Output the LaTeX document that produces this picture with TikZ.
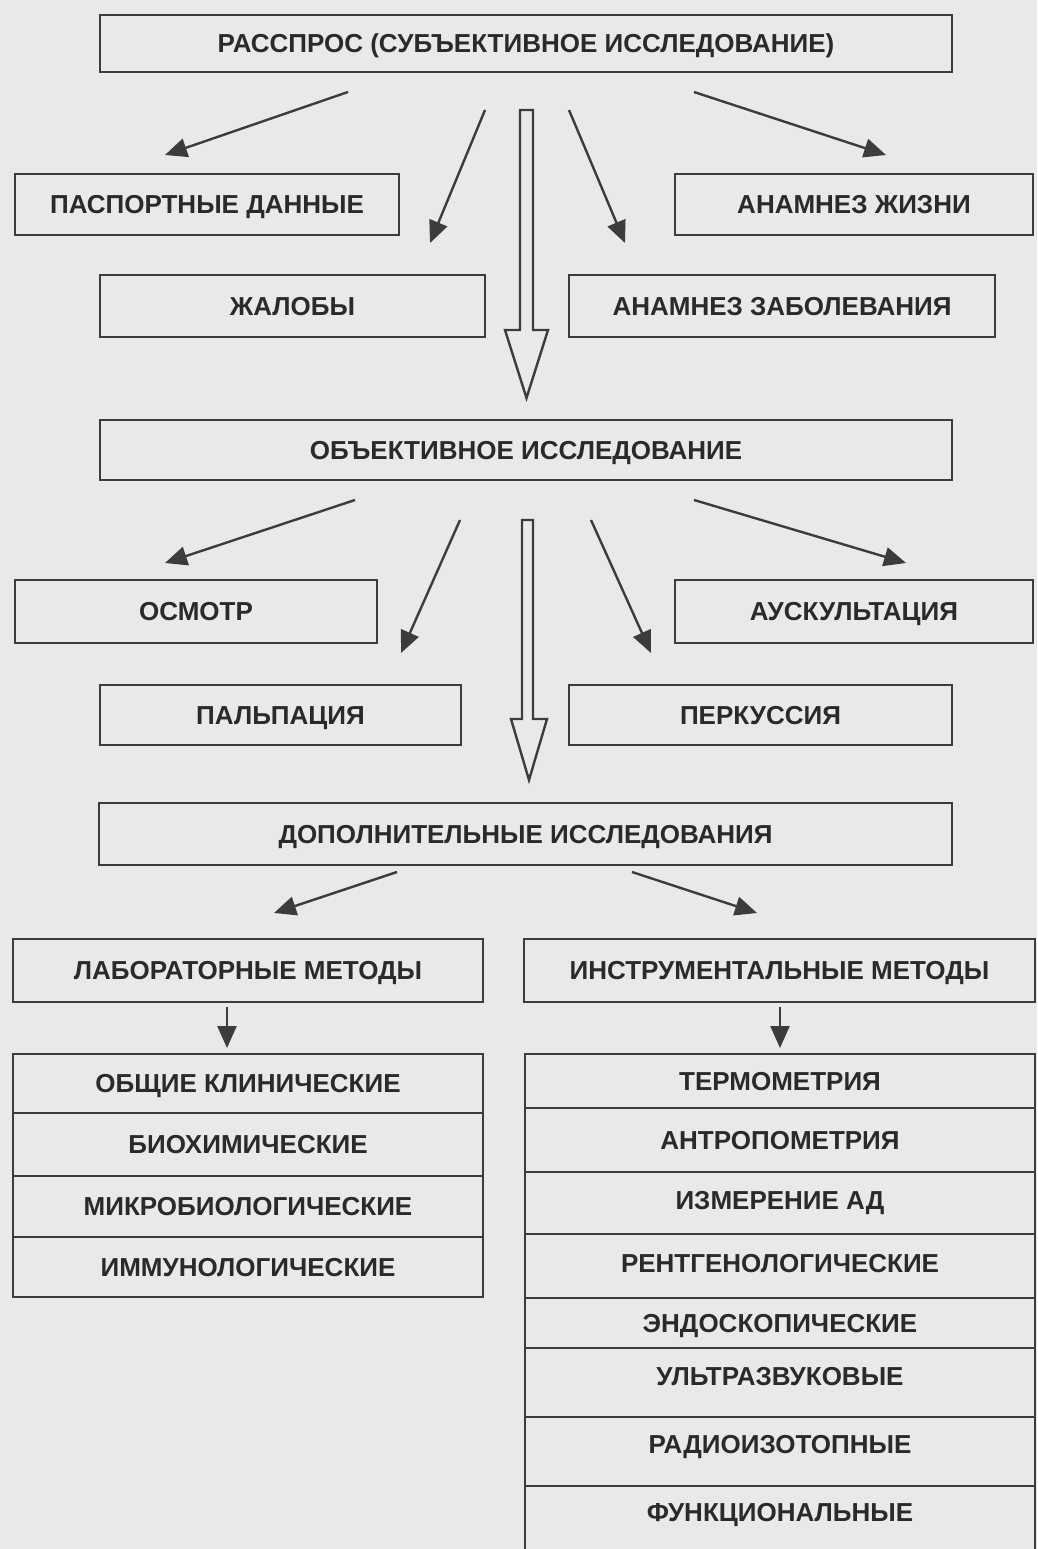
\documentclass[tikz,border=0pt]{standalone}
\usepackage{fontspec}
\setmainfont{Liberation Sans}
\usetikzlibrary{arrows.meta}
\definecolor{scanbg}{RGB}{233,233,233}
\definecolor{inkgray}{RGB}{60,60,60}
\definecolor{txtgray}{RGB}{42,42,42}
\begin{document}
\begin{tikzpicture}[x=1pt,y=-1pt,
    box/.style={draw=inkgray,line width=2.6pt,inner sep=0pt,outer sep=0pt,text=txtgray,
      font=\bfseries\fontsize{26}{28}\selectfont,text height=18.6pt,text depth=0pt},
    arr/.style={draw=inkgray,line width=2.4pt,-{Triangle[length=22pt,width=19pt]}},
    hollow/.style={draw=inkgray,line width=2.4pt,line join=miter}]
    \fill[scanbg] (0,0) rectangle (1037,1549);
    \useasboundingbox (0,0) rectangle (1037,1549);

    % subjective part
    \node[box,minimum width=852pt,minimum height=57pt] (rasspros) at (526,43.5) {РАССПРОС (СУБЪЕКТИВНОЕ ИССЛЕДОВАНИЕ)};
    \node[box,minimum width=384pt,minimum height=61pt] (pasport) at (207,204.5) {ПАСПОРТНЫЕ ДАННЫЕ};
    \node[box,minimum width=358pt,minimum height=61pt] (zhizn) at (854,204.5) {АНАМНЕЗ ЖИЗНИ};
    \node[box,minimum width=385pt,minimum height=62pt] (zhaloby) at (292.5,306) {ЖАЛОБЫ};
    \node[box,minimum width=426pt,minimum height=62pt] (zabol) at (782,306) {АНАМНЕЗ ЗАБОЛЕВАНИЯ};

    \coordinate (r1) at (348,92);  \coordinate (r2) at (485,110);
    \coordinate (r3) at (569,110); \coordinate (r4) at (694,92);
    \coordinate (p1) at (165,155); \coordinate (p2) at (430,243);
    \coordinate (p3) at (625,243); \coordinate (p4) at (886,155);
    \draw[arr] (r1) -- (p1);
    \draw[arr] (r2) -- (p2);
    \draw[arr] (r3) -- (p3);
    \draw[arr] (r4) -- (p4);
    \draw[hollow] (520,110) -- (520,330) -- (505,330) -- (526.5,398) -- (548,330) -- (533,330) -- (533,110) -- cycle;

    % objective part
    \node[box,minimum width=852pt,minimum height=60pt] (obj) at (526,450) {ОБЪЕКТИВНОЕ ИССЛЕДОВАНИЕ};
    \node[box,minimum width=362pt,minimum height=63pt] (osmotr) at (196,611.5) {ОСМОТР};
    \node[box,minimum width=358pt,minimum height=63pt] (auskult) at (854,611.5) {АУСКУЛЬТАЦИЯ};
    \node[box,minimum width=361pt,minimum height=60pt] (palp) at (280.5,715) {ПАЛЬПАЦИЯ};
    \node[box,minimum width=383pt,minimum height=60pt] (perk) at (760.5,715) {ПЕРКУССИЯ};

    \coordinate (o1) at (355,500); \coordinate (o2) at (460,520);
    \coordinate (o3) at (591,520); \coordinate (o4) at (694,500);
    \coordinate (q1) at (165,563); \coordinate (q2) at (401,653);
    \coordinate (q3) at (651,653); \coordinate (q4) at (906,563);
    \draw[arr] (o1) -- (q1);
    \draw[arr] (o2) -- (q2);
    \draw[arr] (o3) -- (q3);
    \draw[arr] (o4) -- (q4);
    \draw[hollow] (522,520) -- (522,719) -- (511,719) -- (529,780) -- (547,719) -- (533,719) -- (533,520) -- cycle;

    % additional part
    \node[box,minimum width=853pt,minimum height=62pt] (dop) at (525.5,834) {ДОПОЛНИТЕЛЬНЫЕ ИССЛЕДОВАНИЯ};
    \node[box,minimum width=470pt,minimum height=63pt] (labor) at (248,970.5) {ЛАБОРАТОРНЫЕ МЕТОДЫ};
    \node[box,minimum width=511pt,minimum height=63pt] (instr) at (779.5,970.5) {ИНСТРУМЕНТАЛЬНЫЕ МЕТОДЫ};

    \coordinate (d1) at (397,872); \coordinate (d2) at (632,872);
    \coordinate (m1) at (274,913); \coordinate (m2) at (757,913);
    \coordinate (l1) at (227,1007); \coordinate (l2) at (227,1048);
    \coordinate (i1) at (780,1007); \coordinate (i2) at (780,1048);
    \draw[arr] (d1) -- (m1);
    \draw[arr] (d2) -- (m2);
    \draw[arr] (l1) -- (l2);
    \draw[arr] (i1) -- (i2);

    % laboratory methods
    \node[box,minimum width=470pt,minimum height=59pt] (obsh) at (248,1083.5) {ОБЩИЕ КЛИНИЧЕСКИЕ};
    \node[box,minimum width=470pt,minimum height=63pt] (bioh) at (248,1144.5) {БИОХИМИЧЕСКИЕ};
    \node[box,minimum width=470pt,minimum height=61pt] (mikro) at (248,1206.5) {МИКРОБИОЛОГИЧЕСКИЕ};
    \node[box,minimum width=470pt,minimum height=60pt] (immun) at (248,1267) {ИММУНОЛОГИЧЕСКИЕ};

    % instrumental methods
    \node[box,minimum width=510pt,minimum height=54pt] (termo) at (780,1081) {ТЕРМОМЕТРИЯ};
    \node[box,minimum width=510pt,minimum height=64pt] (antro) at (780,1140) {АНТРОПОМЕТРИЯ};
    \node[box,minimum width=510pt,minimum height=62pt,text depth=5pt] (izmer) at (780,1203) {ИЗМЕРЕНИЕ АД};
    \node[box,minimum width=510pt,minimum height=64pt,text depth=6pt] (rentg) at (780,1266) {РЕНТГЕНОЛОГИЧЕСКИЕ};
    \node[box,minimum width=510pt,minimum height=50pt] (endo) at (780,1323) {ЭНДОСКОПИЧЕСКИЕ};
    \node[box,minimum width=510pt,minimum height=69pt,text depth=12pt] (uzi) at (780,1382.5) {УЛЬТРАЗВУКОВЫЕ};
    \node[box,minimum width=510pt,minimum height=69pt,text depth=14pt] (radio) at (780,1451.5) {РАДИОИЗОТОПНЫЕ};
    \node[box,draw=none,minimum width=510pt,minimum height=52pt] (funk) at (780,1512) {ФУНКЦИОНАЛЬНЫЕ};
    \draw[draw=inkgray,line width=2.6pt] ([yshift=-30pt]funk.south west) -- (funk.north west) -- (funk.north east) -- ([yshift=-30pt]funk.south east);
\end{tikzpicture}
\end{document}
